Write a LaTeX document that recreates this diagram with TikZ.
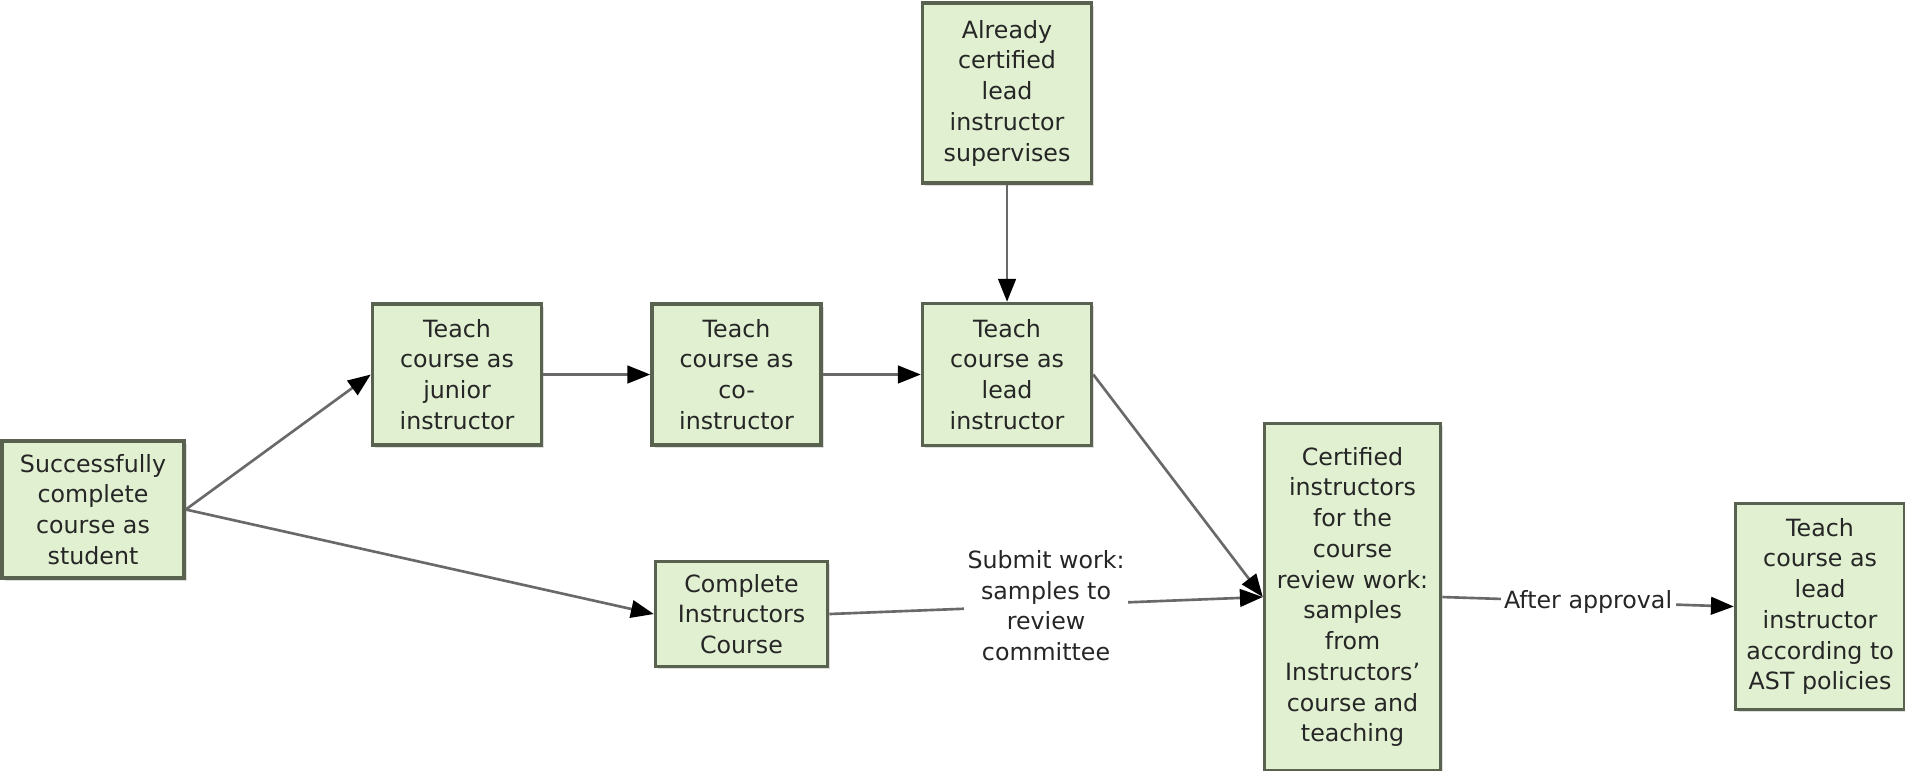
\documentclass[tikz,border=0pt]{standalone}
\usepackage{fontspec}
\setmainfont{DejaVu Sans}
\usepackage{tikz}
\usetikzlibrary{positioning,arrows.meta,shadows}
\definecolor{boxfill}{RGB}{224,240,208}
\definecolor{boxline}{RGB}{88,98,78}
\definecolor{flowline}{RGB}{105,105,105}
\tikzset{
  stepnode/.style args={#1,#2}{
  rectangle,
  draw=boxline,
  fill=boxfill,
  line width=2pt,
  drop shadow={shadow xshift=1.5pt,shadow yshift=-1.5pt,opacity=0.25},
  align=center,
  inner sep=2pt,
  text=black!85,
  font=\fontsize{13.5}{17.5}\selectfont,
  minimum width=#1 cm,
  minimum height=#2 cm,
  },
  flow/.style={draw=flowline,line width=1.5pt,-{Triangle[length=13pt,width=10pt,color=black]}},
  flowlabel/.style={fill=white,align=center,text=black!85,inner sep=2pt,
  font=\fontsize{13.5}{17.5}\selectfont}
}
\begin{document}
\begin{tikzpicture}
  \useasboundingbox (0,0) rectangle (38.1,-15.4);

  \node [stepnode={3.64,2.74}] (student) at (1.86,-10.19) {Successfully\\complete\\course as\\student};
  \node [stepnode={3.38,2.82},right=3.7cm of student,yshift=2.7cm] (junior) {Teach\\course as\\junior\\instructor};
  \node [stepnode={3.38,2.82},right=2.14cm of junior] (co) {Teach\\course as\\co-\\instructor};
  \node [stepnode={3.38,2.84},right=1.96cm of co] (lead) {Teach\\course as\\lead\\instructor};
  \node [stepnode={3.38,3.6},above=2.34cm of lead] (already) {Already\\certified\\lead\\instructor\\supervises};
  \node [stepnode={3.44,2.1},below=2.26cm of co,xshift=0.1cm] (complete) {Complete\\Instructors\\Course};
  \node [stepnode={3.52,6.94},right=8.67cm of complete,yshift=0.34cm] (certified) {Certified\\instructors\\for the\\course\\review work:\\samples\\from\\Instructors'\\course and\\teaching};
  \node [stepnode={3.38,4.12},right=5.83cm of certified,yshift=-0.19cm] (final) {Teach\\course as\\lead\\instructor\\according to\\AST policies};

  \draw[flow] (student.east) -- (junior.west);
  \draw[flow] (student.east) -- (complete.west);
  \draw[flow] (junior) -- (co);
  \draw[flow] (co) -- (lead);
  \draw[flow] (already) -- (lead);
  \draw[flow] (lead.east) -- (certified.west);
  % review and approval
  \draw[flow] (complete.east) -- node[flowlabel] {Submit work:\\samples to\\review\\committee} (certified.west);
  \draw[flow] (certified.east) -- node[flowlabel] {After approval} (final.west);

\end{tikzpicture}
\end{document}
